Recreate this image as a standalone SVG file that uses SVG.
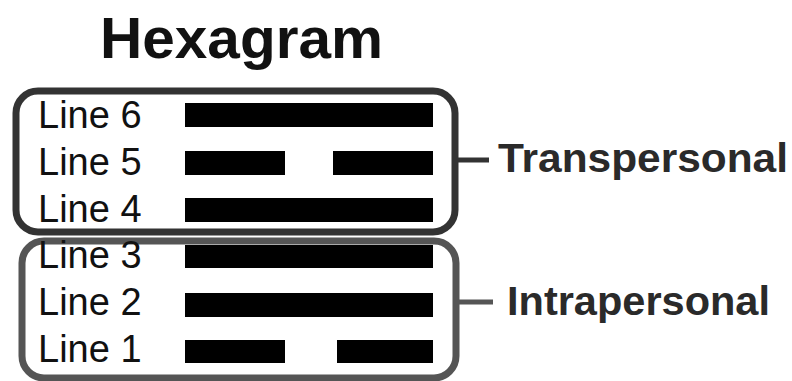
<svg xmlns="http://www.w3.org/2000/svg" width="792" height="381" viewBox="0 0 792 381">
<style>
.title{font-family:"Liberation Sans",Arial,sans-serif;font-weight:bold;font-size:58px;fill:#111}
.lbl{font-family:"Liberation Sans",Arial,sans-serif;font-size:38px;fill:#111}
.grp{font-family:"Liberation Sans",Arial,sans-serif;font-weight:bold;fill:#2a2a2a}
.bar{fill:#000}
.box{fill:none;stroke-width:7}
.tick{stroke-width:5;fill:none}
</style>
<rect width="792" height="381" fill="#fff"/>
<text class="title" x="100" y="58" textLength="283" lengthAdjust="spacingAndGlyphs">Hexagram</text>
<g id="transpersonal-box">
<rect class="box" x="16" y="91" width="439" height="141" rx="22" stroke="#333"/>
</g>
<g id="intrapersonal-box">
<rect class="box" x="22" y="241" width="434" height="137" rx="22" stroke="#555"/>
</g>
<g id="line6"><text class="lbl" x="38" y="128">Line 6</text><rect class="bar" x="185" y="103" width="248" height="24"/></g>
<g id="line5"><text class="lbl" x="38" y="175">Line 5</text><rect class="bar" x="185" y="151" width="100" height="24"/><rect class="bar" x="333" y="151" width="100" height="24"/></g>
<g id="line4"><text class="lbl" x="38" y="222">Line 4</text><rect class="bar" x="185" y="198" width="248" height="24"/></g>
<g id="line3"><text class="lbl" x="38" y="268">Line 3</text><rect class="bar" x="185" y="245" width="248" height="23"/></g>
<g id="line2"><text class="lbl" x="38" y="315">Line 2</text><rect class="bar" x="185" y="293" width="248" height="24"/></g>
<g id="line1"><text class="lbl" x="38" y="362">Line 1</text><rect class="bar" x="185" y="340" width="100" height="23"/><rect class="bar" x="337" y="340" width="96" height="23"/></g>
<g id="connectors">
<line class="tick" x1="458" y1="160" x2="489" y2="160" stroke="#333"/>
<line class="tick" x1="459" y1="302" x2="493" y2="302" stroke="#555"/>
</g>
<g id="transpersonal-label"><text class="grp" x="498" y="172" font-size="41" textLength="290" lengthAdjust="spacingAndGlyphs">Transpersonal</text></g>
<g id="intrapersonal-label"><text class="grp" x="507" y="315" font-size="40" textLength="263" lengthAdjust="spacingAndGlyphs">Intrapersonal</text></g>
</svg>
